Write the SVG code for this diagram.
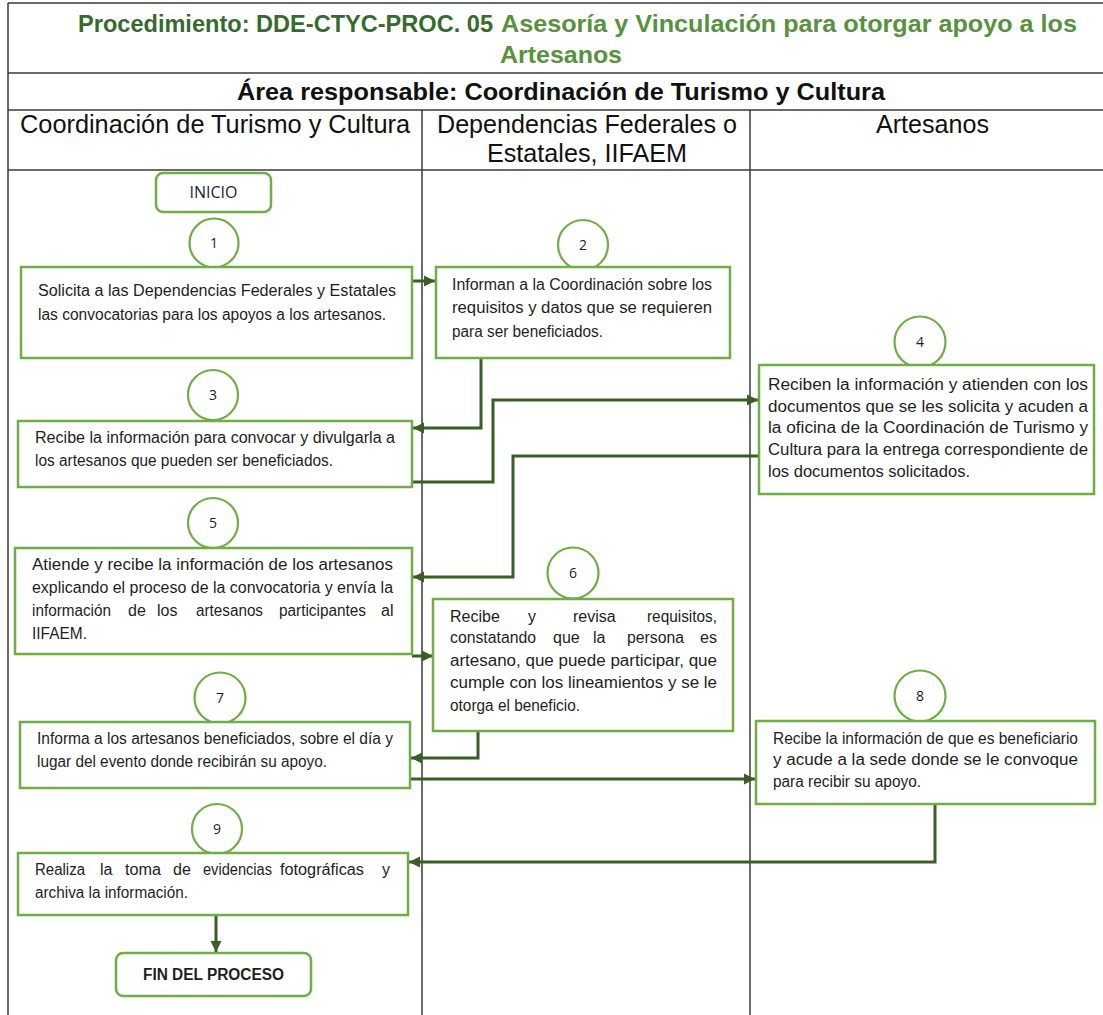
<svg xmlns="http://www.w3.org/2000/svg" width="1103" height="1015" viewBox="0 0 1103 1015">
  <style>
    .grid { stroke: #3a3a3a; stroke-width: 1.5; fill: none; }
    .box { fill: #ffffff; stroke: #70ad47; stroke-width: 2.5; }
    .term { fill: #ffffff; stroke: #70ad47; stroke-width: 2.5; }
    .num { fill: #ffffff; stroke: #70ad47; stroke-width: 2.2; }
    .conn { fill: none; stroke: #3b5e26; stroke-width: 3; }
    .t { font-family: "Liberation Sans", Arial, sans-serif; font-size: 16px; fill: #1e1e1e; }
    .n { font-family: "Open Sans", "Liberation Sans", sans-serif; font-size: 14px; fill: #1e1e1e; text-anchor: middle; }
    .hd { font-family: "Liberation Sans", Arial, sans-serif; font-size: 25.5px; fill: #111111; }
    .ttl { font-family: "Liberation Sans", Arial, sans-serif; font-size: 24.5px; font-weight: bold; }
  </style>
  <defs>
    <marker id="arrow" markerUnits="userSpaceOnUse" markerWidth="12" markerHeight="12" refX="11" refY="6" orient="auto">
      <path d="M0,0.5 L11,6 L0,11.5 Z" fill="#3b5e26"/>
    </marker>
  </defs>

  <rect x="0" y="0" width="1103" height="1015" fill="#ffffff"/>

  <!-- table frame and swimlanes -->
  <g id="table">
    <path class="grid" d="M8,3 H1103 M8,3 V1015 M8,73 H1103 M8,110 H1103 M8,170 H1103 M422,110 V1015 M750,110 V1015"/>
    <text class="ttl" x="78" y="32" fill="#386a2f" textLength="415" lengthAdjust="spacingAndGlyphs">Procedimiento: DDE-CTYC-PROC. 05</text>
    <text class="ttl" x="501" y="32" fill="#5a9140" textLength="576" lengthAdjust="spacingAndGlyphs">Asesoría y Vinculación para otorgar apoyo a los</text>
    <text class="ttl" x="500" y="63" fill="#5a9140" textLength="122" lengthAdjust="spacingAndGlyphs">Artesanos</text>
    <text class="ttl" x="237" y="100" fill="#111111" textLength="648" lengthAdjust="spacingAndGlyphs">Área responsable: Coordinación de Turismo y Cultura</text>
    <text class="hd" x="20" y="133" textLength="390" lengthAdjust="spacingAndGlyphs">Coordinación de Turismo y Cultura</text>
    <text class="hd" x="437" y="133" textLength="300" lengthAdjust="spacingAndGlyphs">Dependencias Federales o</text>
    <text class="hd" x="487" y="162" textLength="200" lengthAdjust="spacingAndGlyphs">Estatales, IIFAEM</text>
    <text class="hd" x="876" y="133" textLength="113" lengthAdjust="spacingAndGlyphs">Artesanos</text>
  </g>

  <!-- connectors -->
  <g id="connectors">
    <path class="conn" d="M412,281 H435" marker-end="url(#arrow)"/>
    <path class="conn" d="M481,358 V428 H413" marker-end="url(#arrow)"/>
    <path class="conn" d="M412,482 H493 V400 H758" marker-end="url(#arrow)"/>
    <path class="conn" d="M759,456 H513 V577 H413" marker-end="url(#arrow)"/>
    <path class="conn" d="M412,656 H433" marker-end="url(#arrow)"/>
    <path class="conn" d="M478,731 V758 H411" marker-end="url(#arrow)"/>
    <path class="conn" d="M410,779 H755" marker-end="url(#arrow)"/>
    <path class="conn" d="M935,804 V862 H409" marker-end="url(#arrow)"/>
    <path class="conn" d="M216,915 V952" marker-end="url(#arrow)"/>
  </g>

  <g id="inicio">
    <rect class="term" x="156" y="173" width="115" height="39" rx="7"/>
    <text x="213.5" y="198" font-family="'Open Sans', 'Liberation Sans', sans-serif" font-size="15.5" fill="#1e1e1e" text-anchor="middle" textLength="48" lengthAdjust="spacingAndGlyphs">INICIO</text>
  </g>

  <g id="step1">
    <circle class="num" cx="214" cy="243" r="24.5"/>
    <text class="n" x="214" y="248">1</text>
    <rect class="box" x="21" y="267" width="391" height="91"/>
    <text class="t" x="38" y="296" textLength="358" lengthAdjust="spacingAndGlyphs">Solicita a las Dependencias Federales y Estatales</text>
    <text class="t" x="38" y="320" textLength="348" lengthAdjust="spacingAndGlyphs">las convocatorias para los apoyos a los artesanos.</text>
  </g>

  <g id="step2">
    <circle class="num" cx="583" cy="245" r="25"/>
    <text class="n" x="583" y="250">2</text>
    <rect class="box" x="436" y="267" width="294" height="91"/>
    <text class="t" x="452" y="290" textLength="260" lengthAdjust="spacingAndGlyphs">Informan a la Coordinación sobre los</text>
    <text class="t" x="452" y="313" textLength="260" lengthAdjust="spacingAndGlyphs">requisitos y datos que se requieren</text>
    <text class="t" x="452" y="337" textLength="151" lengthAdjust="spacingAndGlyphs">para ser beneficiados.</text>
  </g>

  <g id="step3">
    <circle class="num" cx="213" cy="395" r="25"/>
    <text class="n" x="213" y="400">3</text>
    <rect class="box" x="18" y="421" width="394" height="66"/>
    <text class="t" x="35" y="443" textLength="360" lengthAdjust="spacingAndGlyphs">Recibe la información para convocar y divulgarla a</text>
    <text class="t" x="35" y="466" textLength="298" lengthAdjust="spacingAndGlyphs">los artesanos que pueden ser beneficiados.</text>
  </g>

  <g id="step4">
    <circle class="num" cx="920" cy="342" r="25.5"/>
    <text class="n" x="920" y="347">4</text>
    <rect class="box" x="759" y="365" width="335" height="129"/>
    <text class="t" x="768" y="390" textLength="320" lengthAdjust="spacingAndGlyphs">Reciben la información y atienden con los</text>
    <text class="t" x="768" y="412" textLength="320" lengthAdjust="spacingAndGlyphs">documentos que se les solicita y acuden a</text>
    <text class="t" x="768" y="433" textLength="320" lengthAdjust="spacingAndGlyphs">la oficina de la Coordinación de Turismo y</text>
    <text class="t" x="768" y="455" textLength="320" lengthAdjust="spacingAndGlyphs">Cultura para la entrega correspondiente de</text>
    <text class="t" x="768" y="477" textLength="202" lengthAdjust="spacingAndGlyphs">los documentos solicitados.</text>
  </g>

  <g id="step5">
    <circle class="num" cx="213" cy="523" r="25"/>
    <text class="n" x="213" y="528">5</text>
    <rect class="box" x="15" y="548" width="397" height="106"/>
    <text class="t" x="32" y="570" textLength="361" lengthAdjust="spacingAndGlyphs">Atiende y recibe la información de los artesanos</text>
    <text class="t" x="32" y="593" textLength="361" lengthAdjust="spacingAndGlyphs">explicando el proceso de la convocatoria y envía la</text>
    <text class="t" y="616"><tspan x="32" textLength="79" lengthAdjust="spacingAndGlyphs">información</tspan><tspan x="128">de</tspan><tspan x="157">los</tspan><tspan x="196" textLength="67" lengthAdjust="spacingAndGlyphs">artesanos</tspan><tspan x="279" textLength="87" lengthAdjust="spacingAndGlyphs">participantes</tspan><tspan x="381">al</tspan></text>
    <text class="t" x="32" y="639" textLength="55" lengthAdjust="spacingAndGlyphs">IIFAEM.</text>
  </g>

  <g id="step6">
    <circle class="num" cx="573" cy="573" r="25.5"/>
    <text class="n" x="573" y="578">6</text>
    <rect class="box" x="433" y="599" width="300" height="132"/>
    <text class="t" y="622"><tspan x="450">Recibe</tspan><tspan x="528">y</tspan><tspan x="573">revisa</tspan><tspan x="647" textLength="70" lengthAdjust="spacingAndGlyphs">requisitos,</tspan></text>
    <text class="t" y="643"><tspan x="450" textLength="86" lengthAdjust="spacingAndGlyphs">constatando</tspan><tspan x="553">que</tspan><tspan x="593">la</tspan><tspan x="627" textLength="57" lengthAdjust="spacingAndGlyphs">persona</tspan><tspan x="700">es</tspan></text>
    <text class="t" x="450" y="666" textLength="267" lengthAdjust="spacingAndGlyphs">artesano, que puede participar, que</text>
    <text class="t" x="450" y="688" textLength="267" lengthAdjust="spacingAndGlyphs">cumple con los lineamientos y se le</text>
    <text class="t" x="450" y="711" textLength="130" lengthAdjust="spacingAndGlyphs">otorga el beneficio.</text>
  </g>

  <g id="step7">
    <circle class="num" cx="220" cy="698" r="25.5"/>
    <text class="n" x="220" y="703">7</text>
    <rect class="box" x="20" y="722" width="390" height="66"/>
    <text class="t" x="37" y="744" textLength="356" lengthAdjust="spacingAndGlyphs">Informa a los artesanos beneficiados, sobre el día y</text>
    <text class="t" x="37" y="767" textLength="290" lengthAdjust="spacingAndGlyphs">lugar del evento donde recibirán su apoyo.</text>
  </g>

  <g id="step8">
    <circle class="num" cx="920" cy="696" r="25.5"/>
    <text class="n" x="920" y="701">8</text>
    <rect class="box" x="756" y="721" width="339" height="83"/>
    <text class="t" x="773" y="744" textLength="305" lengthAdjust="spacingAndGlyphs">Recibe la información de que es beneficiario</text>
    <text class="t" x="773" y="765" textLength="305" lengthAdjust="spacingAndGlyphs">y acude a la sede donde se le convoque</text>
    <text class="t" x="773" y="787" textLength="148" lengthAdjust="spacingAndGlyphs">para recibir su apoyo.</text>
  </g>

  <g id="step9">
    <circle class="num" cx="217" cy="829" r="25"/>
    <text class="n" x="217" y="834">9</text>
    <rect class="box" x="18" y="853" width="390" height="62"/>
    <text class="t" y="875"><tspan x="35" textLength="50" lengthAdjust="spacingAndGlyphs">Realiza</tspan><tspan x="100">la</tspan><tspan x="125" textLength="36" lengthAdjust="spacingAndGlyphs">toma</tspan><tspan x="173">de</tspan><tspan x="203" textLength="69" lengthAdjust="spacingAndGlyphs">evidencias</tspan><tspan x="280" textLength="84" lengthAdjust="spacingAndGlyphs">fotográficas</tspan><tspan x="382">y</tspan></text>
    <text class="t" x="35" y="898" textLength="153" lengthAdjust="spacingAndGlyphs">archiva la información.</text>
  </g>

  <g id="fin">
    <rect class="term" x="116" y="953" width="195" height="43" rx="7"/>
    <text x="213.5" y="980" font-family="'Liberation Sans', Arial, sans-serif" font-size="16" font-weight="bold" fill="#1e1e1e" text-anchor="middle" textLength="141" lengthAdjust="spacingAndGlyphs">FIN DEL PROCESO</text>
  </g>
</svg>
